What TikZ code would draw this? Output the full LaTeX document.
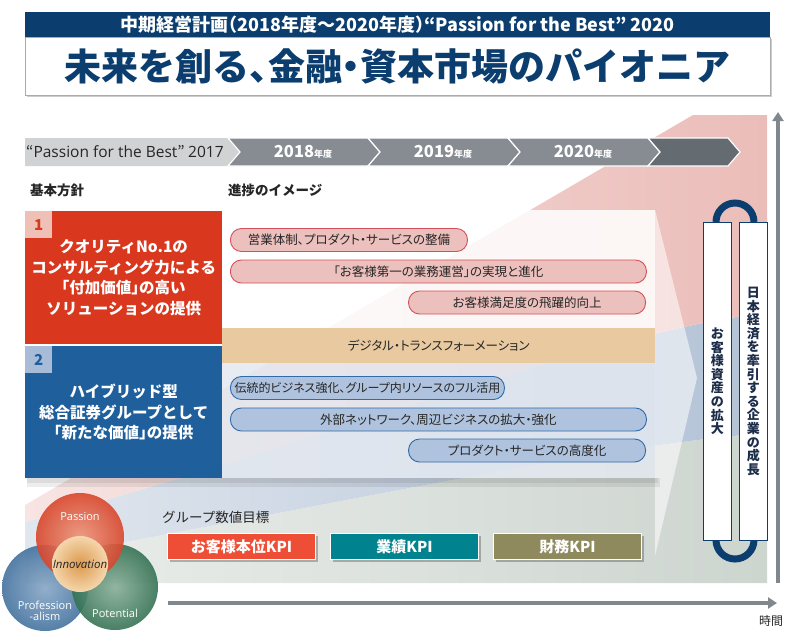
\documentclass[tikz,border=0pt]{standalone}
\usepackage{fontspec}
\setmainfont{Noto Sans CJK JP}
\newfontfamily\paltfont{Noto Sans CJK JP}[RawFeature=+palt]
\newfontfamily\haltfont{Noto Sans CJK JP}[RawFeature=+halt]
\newfontfamily\circlefont{Open Sans}
\usetikzlibrary{positioning,arrows.meta,shadows}

\definecolor{navy}{HTML}{0B3E6F}
\definecolor{framegray}{HTML}{A9ABAE}
\definecolor{redbox}{HTML}{D9381E}
\definecolor{bluebox}{HTML}{1F5F9C}
\definecolor{numpink}{HTML}{EFC0B6}
\definecolor{numblue}{HTML}{A8BCD7}
\definecolor{pinkpill}{HTML}{ECC0BD}
\definecolor{pinkline}{HTML}{D5505A}
\definecolor{bluepill}{HTML}{B0C3DE}
\definecolor{blueline}{HTML}{2F6BA8}
\definecolor{dxtan}{HTML}{E8C9A0}
\definecolor{panelblue}{HTML}{E3E8F0}
\definecolor{wedgepink}{HTML}{EBBDB9}
\definecolor{wedgeblue}{HTML}{B3C2D6}
\definecolor{wedgegray}{HTML}{CDD5CF}
\definecolor{tlight}{HTML}{D0D2D4}
\definecolor{tmid}{HTML}{868C91}
\definecolor{tdark}{HTML}{646B71}
\definecolor{axisgray}{HTML}{80878D}
\definecolor{kpired}{HTML}{EE4E36}
\definecolor{kpiteal}{HTML}{00838F}
\definecolor{kpiolive}{HTML}{8E8A5E}
\definecolor{textgray}{HTML}{262626}
\definecolor{vtext}{HTML}{1C2D4A}
\definecolor{pasL}{HTML}{EE9478}
\definecolor{pasD}{HTML}{D9462C}
\definecolor{profL}{HTML}{86A6C6}
\definecolor{profD}{HTML}{44729E}
\definecolor{potL}{HTML}{86AD96}
\definecolor{potD}{HTML}{357254}
\definecolor{innoL}{HTML}{F5D6AD}
\definecolor{innoD}{HTML}{DC9A4E}

\tikzset{
  pill/.style={draw=#1line, fill=#1pill, line width=0.9pt, rounded corners=11pt,
    minimum height=23pt, inner sep=0pt, text=textgray,
    font=\paltfont\fontsize{12.5}{12.5}\selectfont},
  policy/.style={fill=#1, minimum width=197pt, minimum height=133pt, inner sep=0pt,
    align=center, text=white, font=\haltfont\bfseries\fontsize{15.5}{20.5}\selectfont},
  numbox/.style={minimum width=27pt, minimum height=27pt, inner sep=0pt,
    font=\bfseries\fontsize{15}{15}\selectfont},
  yearlabel/.style={text=white, inner sep=0pt, font=\bfseries\fontsize{16.5}{16.5}\selectfont},
  vbox/.style={draw=navy, line width=0.8pt, fill=white, minimum width=28pt,
    minimum height=318pt, inner sep=0pt, align=center, text=vtext,
    font=\bfseries\fontsize{13}{13.6}\selectfont},
  kpi/.style={fill=#1, draw=white, line width=1pt, minimum width=148pt,
    minimum height=26pt, inner sep=0pt, text=white,
    font=\bfseries\fontsize{15}{15}\selectfont,
    drop shadow={shadow xshift=2.5pt, shadow yshift=-2.5pt, fill=black, opacity=0.25}},
  axis/.style={draw=axisgray, line width=4pt, -{Triangle[length=9pt, width=11pt]}},
  heading/.style={text=textgray, font=\bfseries\fontsize{13.5}{13.5}\selectfont, anchor=west, inner sep=0pt},
  venn/.style={text=white, font=\circlefont\fontsize{11}{12}\selectfont, align=center, inner sep=0pt}
}

\begin{document}
\begin{tikzpicture}[x=1pt, y=-1pt]
\useasboundingbox (0,0) rectangle (788,630);

% growth wedges behind everything
\shade[left color=wedgegray!40!white, right color=wedgegray] (25,560) .. controls (300,512) and (600,445) .. (767,433) -- (767,583) -- (25,583) -- cycle;
\shade[left color=wedgeblue!40!white, right color=wedgeblue] (25,522) .. controls (300,450) and (600,330) .. (767,313) -- (767,433) .. controls (600,445) and (300,512) .. (25,560) -- cycle;
\shade[left color=wedgepink!40!white, right color=wedgepink] (25,505) -- (693,115) -- (767,115) -- (767,313) .. controls (600,330) and (300,450) .. (25,522) -- cycle;
\fill[white, opacity=0.55] (655,210) -- (697,378) -- (655,556) -- cycle;

% header
\node[fill=navy, minimum width=745pt, minimum height=25pt, inner sep=0pt, anchor=north west,
  text=white, font=\haltfont\bfseries\fontsize{18}{18}\selectfont] (plan) at (25,12)
  {中期経営計画（2018年度～2020年度）“Passion for the Best” 2020};
\node[draw=framegray, line width=1pt, fill=white, minimum width=745pt, minimum height=58pt,
  inner sep=0pt, anchor=north, text=navy, font=\haltfont\bfseries\fontsize{37}{37}\selectfont,
  drop shadow={shadow xshift=1.5pt, shadow yshift=-1.5pt, fill=black, opacity=0.2}] (motto) at (plan.south)
  {未来を創る、金融・資本市場のパイオニア};

% timeline
\fill[tlight] (25,138) -- (228,138) -- (240,152) -- (228,166) -- (25,166) -- cycle;
\node[anchor=west, inner sep=0pt, text=textgray, font=\fontsize{15.5}{16}\selectfont] (pfb) at (26,152)
  {“{\circlefont Passion for the Best}” {\circlefont 2017}};
\foreach \xa/\xb/\yr in {228/368/2018, 368/508/2019, 508/648/2020} {
  \draw[white, line width=1.2pt, fill=tmid] (\xa,138) -- (\xb,138) -- (\xb+12,152) -- (\xb,166) -- (\xa,166) -- (\xa+12,152) -- cycle;
  \node[yearlabel] (y\yr) at ({(\xa+\xb)/2+5},152) {\yr{\fontsize{9}{9}\selectfont 年度}};
}
\draw[white, line width=1.2pt, fill=tdark] (648,138) -- (728,138) -- (740,152) -- (728,166) -- (648,166) -- (660,152) -- cycle;

\node[heading] (basic) at (30,190) {基本方針};
\node[heading] (image) at (228,190) {進捗のイメージ};

% panel
\fill[black, opacity=0.07] (27,478) rectangle (660,487);
\fill[black, opacity=0.07] (27,478) rectangle (658,483);
\fill[white, opacity=0.85] (222,210) rectangle (655,328);
\fill[panelblue, opacity=0.85] (222,363) rectangle (655,478);
\node[fill=dxtan, minimum width=433pt, minimum height=35pt, inner sep=0pt, anchor=north west,
  text=textgray, font=\paltfont\fontsize{12.5}{12.5}\selectfont] (dx) at (222,328) {デジタル・トランスフォーメーション};

% policies
\node[policy=redbox, anchor=north west] (quality) at (25,211)
  {クオリティNo.1の\\コンサルティング力による\\「付加価値」の高い\\ソリューションの提供};
\node[numbox, fill=numpink, text=redbox, anchor=north west] (n1) at (quality.north west) {1};
\node[policy=bluebox, minimum height=132pt, anchor=north west] (hybrid) at (25,346)
  {ハイブリッド型\\総合証券グループとして\\「新たな価値」の提供};
\node[numbox, fill=numblue, text=bluebox, anchor=north west] (n2) at (hybrid.north west) {2};

% progress pills
\node[pill=pink, minimum width=237pt, anchor=west] (sales) at (230,240) {営業体制、プロダクト・サービスの整備};
\node[pill=pink, minimum width=416pt, anchor=west] (first) at (230,271.5) {「お客様第一の業務運営」の実現と進化};
\node[pill=pink, minimum width=237pt, anchor=east] (satis) at (646,302.5) {お客様満足度の飛躍的向上};
\node[pill=blue, minimum width=274pt, anchor=west, font=\paltfont\fontsize{12}{12}\selectfont] (trad) at (230,388) {伝統的ビジネス強化、グループ内リソースのフル活用};
\node[pill=blue, minimum width=416pt, anchor=west] (ext) at (230,419.5) {外部ネットワーク、周辺ビジネスの拡大・強化};
\node[pill=blue, minimum width=237pt, anchor=east] (adv) at (646,450.5) {プロダクト・サービスの高度化};

% outcome columns
\draw[navy, line width=7pt] (716,222) arc[start angle=180, end angle=0, radius=19pt];
\draw[navy, line width=7pt] (716,540) arc[start angle=180, end angle=360, radius=19pt];
\node[vbox, anchor=north west] (assets) at (703,222) {お\\客\\様\\資\\産\\の\\拡\\大};
\node[vbox, anchor=north west] (growth) at (739,222) {日\\本\\経\\済\\を\\牽\\引\\す\\る\\企\\業\\の\\成\\長};

% KPIs
\node[heading, font=\fontsize{13.5}{13.5}\selectfont] (goal) at (162,517) {グループ数値目標};
\node[kpi=kpired, anchor=north west] (cust) at (167,533) {お客様本位KPI};
\node[kpi=kpiteal, right=14pt of cust] (perf) {業績KPI};
\node[kpi=kpiolive, right=14pt of perf] (fin) {財務KPI};

% three circles
\begin{scope}[fill opacity=0.9]
  \shade[inner color=profL, outer color=profD] (45,588) circle[radius=43pt];
  \shade[inner color=potL, outer color=potD] (115,587) circle[radius=43pt];
  \shade[inner color=pasL, outer color=pasD] (80,537) circle[radius=44pt];
\end{scope}
\shade[inner color=innoD, outer color=innoL] (80,564) circle[radius=28pt];
\node[venn] (passion) at (80,517) {Passion};
\node[venn, text=textgray, font=\circlefont\itshape\fontsize{11.5}{12}\selectfont] (innov) at (80,564) {Innovation};
\node[venn, font=\circlefont\fontsize{11}{11.5}\selectfont] (prof) at (45,611) {Profession\\-alism};
\node[venn] (pot) at (115,613) {Potential};

% axes
\coordinate (t0) at (168,603);
\coordinate (t1) at (777,603);
\draw[axis] (t0) -- (t1);
\node[text=textgray, font=\fontsize{12}{12}\selectfont, inner sep=0pt] (time) at (771,621) {時間};
\coordinate (g0) at (778,583);
\coordinate (g1) at (778,112);
\draw[axis] (g0) -- (g1);
\end{tikzpicture}
\end{document}
